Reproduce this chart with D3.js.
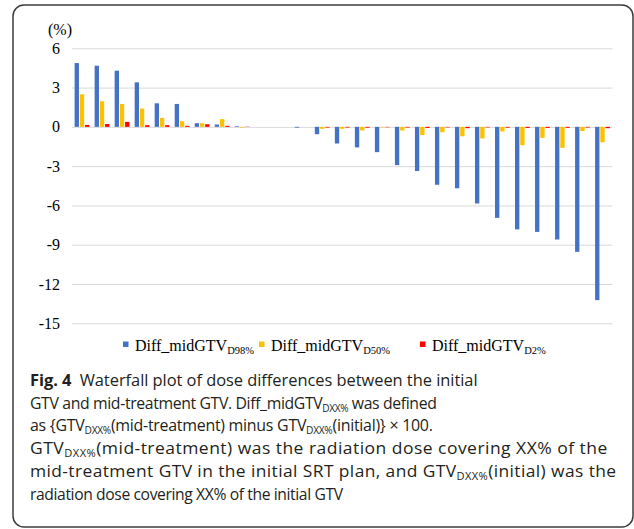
<!DOCTYPE html>
<html><head><meta charset="utf-8">
<script src="https://cdn.jsdelivr.net/npm/d3@7"></script>
<style>html,body{margin:0;padding:0;background:#fff;} svg{display:block}</style>
</head><body>
<svg id="chart" width="634" height="529"></svg>
<script>
// ---- data ----
const categories = d3.range(1, 28).map(String);
const seriesKeys = ["D98%", "D50%", "D2%"];
const diffD98 = [4.87, 4.67, 4.29, 3.40, 1.80, 1.75, 0.28, 0.18, 0.05, 0, 0, -0.06, -0.56, -1.27, -1.57, -1.93, -2.92, -3.37, -4.42, -4.69, -5.85, -6.95, -7.83, -8.02, -8.60, -9.54, -13.23];
const diffD50 = [2.49, 1.96, 1.75, 1.40, 0.69, 0.43, 0.28, 0.59, -0.05, 0, 0, 0, -0.15, -0.15, -0.27, -0.04, -0.28, -0.62, -0.41, -0.72, -0.88, -0.35, -1.40, -0.84, -1.60, -0.32, -1.18];
const diffD2 = [0.15, 0.22, 0.38, 0.13, 0.13, 0.08, 0.20, 0.08, 0.02, 0, 0, 0, -0.05, -0.05, -0.06, -0.03, -0.05, -0.08, -0.04, -0.10, -0.04, -0.06, -0.08, -0.08, -0.07, -0.05, -0.10];
const yTickValues = [6, 3, 0, -3, -6, -9, -12, -15];
const yUnitLabel = "(%)";
const legendBase = "Diff_midGTV";
const seriesColors = ["#4472C4", "#FFC000", "#FF0000"];

const captionLines = [
  [{t: "Fig. 4", b: true}, {t: "\u2002Waterfall plot of dose differences between the initial"}],
  [{t: "GTV and mid-treatment GTV. Diff_midGTV"}, {t: "DXX%", s: true}, {t: " was defined"}],
  [{t: "as {GTV"}, {t: "DXX%", s: true}, {t: "(mid-treatment) minus GTV"}, {t: "DXX%", s: true}, {t: "(initial)} \u00d7 100."}],
  [{t: "GTV"}, {t: "DXX%", s: true}, {t: "(mid-treatment) was the radiation dose covering XX% of the"}],
  [{t: "mid-treatment GTV in the initial SRT plan, and GTV"}, {t: "DXX%", s: true}, {t: "(initial) was the"}],
  [{t: "radiation dose covering XX% of the initial GTV"}]
];
const captionRight = [478, 437, 433, 608, 617, 343];

// ---- drawing ----
const svg = d3.select("#chart");
const serif = "'Liberation Serif','Times New Roman',serif";
const sans = "'Open Sans','Noto Sans',sans-serif";

svg.append("rect").attr("x", 13).attr("y", 5).attr("width", 620).attr("height", 522)
  .attr("rx", 11).attr("fill", "#fff").attr("stroke", "#3c3c3c").attr("stroke-width", 1.5);

const plotL = 72, plotR = 612.5;
const x = d3.scaleBand().domain(categories).range([plotL, plotR]).padding(0);
const xs = d3.scaleBand().domain(seriesKeys).range([0, x.bandwidth()]).paddingInner(0.17).paddingOuter(0.5);
const y = d3.scaleLinear().domain([-15, 6]).range([323.3, 48.3]);

const yAxis = d3.axisLeft(y).tickValues(yTickValues).tickSize(-(plotR - plotL)).tickPadding(12)
  .tickFormat(d => String(d));
const gA = svg.append("g").attr("transform", `translate(${plotL},0)`).call(yAxis);
gA.select(".domain").remove();
gA.selectAll(".tick line").attr("stroke", "#d9d9d9").attr("stroke-width", 1);
gA.selectAll(".tick text").attr("font-family", serif).attr("font-size", 16).attr("fill", "#000");

svg.append("text").attr("x", 60).attr("y", 35).attr("text-anchor", "middle")
  .attr("font-family", serif).attr("font-size", 16).text(yUnitLabel);

const seriesData = [diffD98, diffD50, diffD2];
seriesKeys.forEach((key, si) => {
  svg.append("g").selectAll("rect").data(seriesData[si]).join("rect")
    .attr("x", (d, i) => x(categories[i]) + xs(key))
    .attr("width", xs.bandwidth())
    .attr("y", d => y(Math.max(0, d)))
    .attr("height", d => Math.abs(y(d) - y(0)))
    .attr("fill", seriesColors[si]);
});

// legend
const legendX = [123, 259, 420];
seriesKeys.forEach((key, si) => {
  svg.append("rect").attr("x", legendX[si]).attr("y", 341.5).attr("width", 5.5).attr("height", 5.5)
    .attr("fill", seriesColors[si]);
  const t = svg.append("text").attr("x", legendX[si] + 12).attr("y", 350.5)
    .attr("font-family", serif).attr("font-size", 16).attr("fill", "#000");
  t.append("tspan").text(legendBase);
  t.append("tspan").attr("font-size", 10.5).attr("dy", 3).text(key);
});

// caption
const lineY0 = 386, lineStep = 22.7, capX = 30;
const capItems = captionLines.map((segs, li) => {
  const g = svg.append("g").attr("transform", `translate(${capX},${lineY0 + li * lineStep})`);
  const t = g.append("text").attr("x", 0).attr("y", 0)
    .attr("font-family", sans).attr("font-size", 16.5).attr("fill", "#231f20");
  let shifted = false;
  segs.forEach(s => {
    const sp = t.append("tspan").text(s.t);
    if (s.b) sp.attr("font-weight", 700);
    if (s.s) { sp.attr("font-size", 10.5).attr("dy", 3); shifted = true; }
    else if (shifted) { sp.attr("dy", -3); shifted = false; }
  });
  const n = t.node().getNumberOfChars();
  return {g, t, n, w: t.node().getComputedTextLength(), target: captionRight[li] - capX};
});
const sxAll = d3.sum(capItems, d => d.target) / d3.sum(capItems, d => d.w);
capItems.forEach((d, li) => {
  const r = d.target / d.w;
  const s = sxAll * Math.sqrt(r / sxAll);
  const ls = (d.target / s - d.w) / d.n;
  d.t.attr("letter-spacing", ls.toFixed(3));
  d.g.attr("transform", `translate(${capX},${lineY0 + li * lineStep}) scale(${s},1)`);
});
</script>
</body></html>
